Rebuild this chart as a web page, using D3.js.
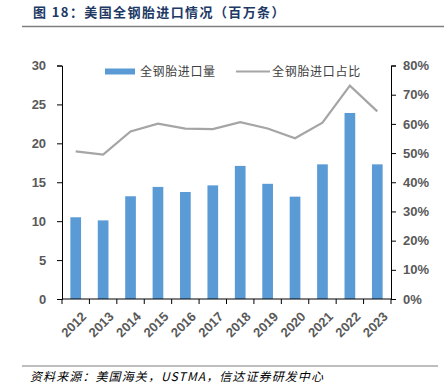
<!DOCTYPE html>
<html>
<head>
<meta charset="utf-8">
<script src="https://cdn.jsdelivr.net/npm/d3@7"></script>
<style>
  body { margin: 0; background: #fff; }
  svg { display: block; font-family: "Liberation Sans", Arial, sans-serif; }
</style>
</head>
<body>
<svg id="chart"></svg>
<script>
// data
const years = ["2012", "2013", "2014", "2015", "2016", "2017", "2018", "2019", "2020", "2021", "2022", "2023"];
const imports = [10.5, 10.1, 13.2, 14.4, 13.75, 14.6, 17.1, 14.8, 13.15, 17.3, 23.9, 17.3];
const share = [50.6, 49.5, 57.4, 60.1, 58.4, 58.2, 60.6, 58.4, 55.1, 60.4, 73.1, 64.3];
const leftTicks = [0, 5, 10, 15, 20, 25, 30];
const rightTicks = [0, 10, 20, 30, 40, 50, 60, 70, 80];

let width = 444;
let height = 389;
let margin = { top: 65.5, right: 53, bottom: 90, left: 62 };

let svg = d3.select("#chart")
    .attr("width", width)
    .attr("height", height);

// title
svg.append("text")
    .attr("x", 33)
    .attr("y", 17)
    .style("font-family", "'Noto Sans CJK SC', sans-serif")
    .style("font-weight", "bold")
    .style("font-size", "13px")
    .style("letter-spacing", "1.4px")
    .attr("fill", "#203864")
    .text("图 18：美国全钢胎进口情况（百万条）");

svg.append("line")
    .attr("x1", 22).attr("x2", 444)
    .attr("y1", 26.5).attr("y2", 26.5)
    .attr("stroke", "#7f7f7f")
    .attr("stroke-width", 1.5);

// scales
let x = d3.scaleBand()
    .domain(years)
    .range([margin.left, width - margin.right])
    .paddingInner(0.61)
    .paddingOuter(0.305);

let yL = d3.scaleLinear()
    .domain([0, 30])
    .range([height - margin.bottom, margin.top]);

let yR = d3.scaleLinear()
    .domain([0, 80])
    .range([height - margin.bottom, margin.top]);

// bars
svg.selectAll(".bar")
    .data(imports)
    .enter().append("rect")
    .attr("class", "bar")
    .attr("x", (d, i) => x(years[i]))
    .attr("y", d => yL(d))
    .attr("width", x.bandwidth())
    .attr("height", d => yL(0) - yL(d))
    .attr("fill", "#5b9bd5");

// share line
let line = d3.line()
    .x((d, i) => x(years[i]) + x.bandwidth() / 2)
    .y(d => yR(d));

svg.append("path")
    .datum(share)
    .attr("d", line)
    .attr("fill", "none")
    .attr("stroke", "#a5a5a5")
    .attr("stroke-width", 2.2);

// axes
let tickStyle = g => {
    g.select(".domain").attr("stroke", "#000");
    g.selectAll(".tick line").attr("stroke", "#000");
    g.selectAll("text")
        .attr("fill", "#595959")
        .style("font-size", "13px")
        .style("font-weight", "bold");
};

svg.append("g")
    .attr("transform", `translate(${margin.left}, 0)`)
    .call(d3.axisLeft(yL).tickValues(leftTicks).tickSize(5).tickSizeOuter(5).tickPadding(7))
    .call(tickStyle)
    .call(g => g.selectAll("text").attr("dx", "-0.3em"));

svg.append("g")
    .attr("transform", `translate(${width - margin.right}, 0)`)
    .call(d3.axisRight(yR).tickValues(rightTicks).tickFormat(d => d + "%").tickSize(5).tickSizeOuter(5).tickPadding(7))
    .call(tickStyle);

// x axis with ticks at band edges
let xAxis = svg.append("g")
    .attr("transform", `translate(0, ${height - margin.bottom})`);

xAxis.append("line")
    .attr("x1", margin.left).attr("x2", width - margin.right)
    .attr("stroke", "#000");

let step = x.step();
xAxis.selectAll(".xt")
    .data(d3.range(years.length + 1))
    .enter().append("line")
    .attr("x1", i => margin.left + i * step)
    .attr("x2", i => margin.left + i * step)
    .attr("y1", 0).attr("y2", 5)
    .attr("stroke", "#000");

xAxis.selectAll(".xl")
    .data(years)
    .enter().append("text")
    .attr("transform", d => `translate(${x(d) + x.bandwidth() / 2 + 5}, 12) rotate(-45)`)
    .attr("text-anchor", "end")
    .attr("dy", "0.7em")
    .attr("fill", "#595959")
    .style("font-size", "13px")
    .style("font-weight", "bold")
    .text(d => d);

// legend
let legendFont = "'Noto Sans CJK SC', sans-serif";
svg.append("rect")
    .attr("x", 105).attr("y", 68.5)
    .attr("width", 30).attr("height", 6)
    .attr("fill", "#5b9bd5");
svg.append("text")
    .attr("x", 140).attr("y", 76)
    .style("font-family", legendFont)
    .style("font-size", "12px")
    .style("letter-spacing", "0.6px")
    .attr("fill", "#404040")
    .text("全钢胎进口量");

svg.append("line")
    .attr("x1", 236).attr("x2", 270)
    .attr("y1", 71.5).attr("y2", 71.5)
    .attr("stroke", "#a5a5a5")
    .attr("stroke-width", 2.2);
svg.append("text")
    .attr("x", 272).attr("y", 76)
    .style("font-family", legendFont)
    .style("font-size", "12px")
    .style("letter-spacing", "0.7px")
    .attr("fill", "#404040")
    .text("全钢胎进口占比");

// footer
svg.append("line")
    .attr("x1", 22).attr("x2", 438)
    .attr("y1", 366).attr("y2", 366)
    .attr("stroke", "#7f7f7f")
    .attr("stroke-width", 1.2);

svg.append("text")
    .attr("x", 30).attr("y", 381)
    .style("font-family", "'Noto Sans CJK SC', sans-serif")
    .style("font-style", "italic")
    .style("font-size", "12px")
    .style("letter-spacing", "1.1px")
    .attr("fill", "#000")
    .text("资料来源：美国海关，USTMA，信达证券研发中心");
</script>
</body>
</html>
